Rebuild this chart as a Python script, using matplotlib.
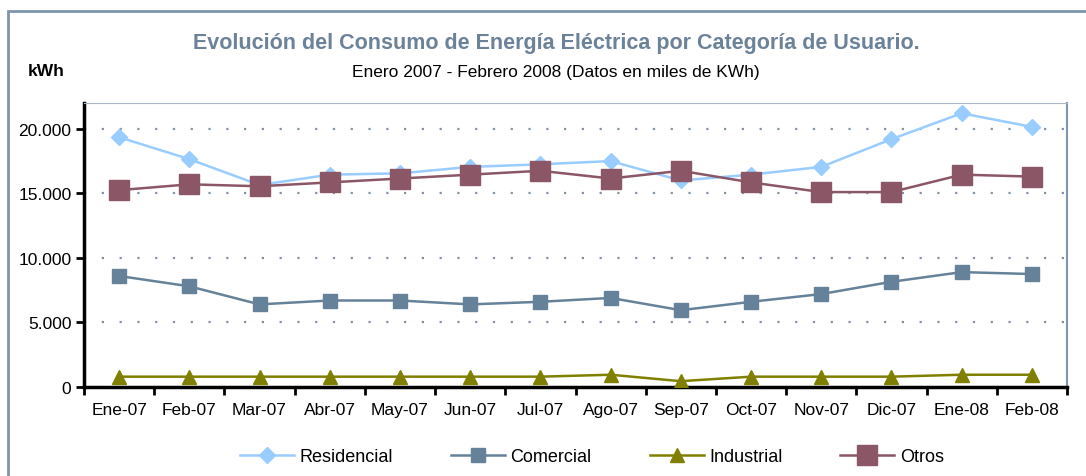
import matplotlib.pyplot as plt
from matplotlib.patches import Rectangle
from matplotlib.ticker import FuncFormatter, FixedLocator
import numpy as np

plt.rcParams['font.family'] = ['Liberation Sans', 'DejaVu Sans']

months = ['Ene-07', 'Feb-07', 'Mar-07', 'Abr-07', 'May-07', 'Jun-07', 'Jul-07',
          'Ago-07', 'Sep-07', 'Oct-07', 'Nov-07', 'Dic-07', 'Ene-08', 'Feb-08']
residencial = [19350, 17650, 15650, 16450, 16550, 17050, 17250,
               17500, 16000, 16450, 17050, 19200, 21200, 20150]
comercial = [8600, 7800, 6400, 6700, 6700, 6400, 6600,
             6900, 5950, 6600, 7200, 8150, 8900, 8750]
industrial = [800, 800, 800, 800, 800, 800, 800,
              950, 450, 800, 800, 800, 950, 950]
otros = [15250, 15700, 15550, 15850, 16150, 16450, 16750,
         16150, 16750, 15850, 15100, 15100, 16450, 16300]

fig = plt.figure(figsize=(10.86, 4.77), dpi=100)
ax = fig.add_axes([84 / 1086, 1 - 388 / 477, (1067 - 84) / 1086, (388 - 104) / 477])

# outer chart frame
fig.patches.append(Rectangle((8 / 1086, -0.1), 1.2, 1 - 12 / 477 + 0.1, transform=fig.transFigure,
                             fill=False, edgecolor='#7F95AD', linewidth=2))

x = np.arange(len(months))
ax.plot(x, residencial, color='#99CCFF', marker='D', markersize=8, linewidth=1.8,
        label='Residencial', zorder=3)
ax.plot(x, comercial, color='#66829A', marker='s', markersize=10, linewidth=1.8,
        label='Comercial', zorder=3)
ax.plot(x, industrial, color='#808000', marker='^', markersize=10, linewidth=1.8,
        label='Industrial', zorder=3)
ax.plot(x, otros, color='#8B5766', marker='s', markersize=15, linewidth=1.8,
        label='Otros', zorder=4)

ax.set_xlim(-0.5, len(months) - 0.5)
ax.set_ylim(0, 22000)
ax.set_yticks([0, 5000, 10000, 15000, 20000])
ax.yaxis.set_major_formatter(FuncFormatter(lambda v, p: f'{int(v):,}'.replace(',', '.')))
ax.set_xticks(x)
ax.set_xticklabels(months)
ax.xaxis.set_minor_locator(FixedLocator(np.arange(-0.5, len(months), 1)))
ax.tick_params(axis='x', which='major', length=0, pad=11, labelsize=12.5)
ax.tick_params(axis='x', which='minor', length=6, width=2)
ax.tick_params(axis='y', length=6, width=2, labelsize=12.5, pad=3)

for v in [5000, 10000, 15000, 20000]:
    ax.axhline(v, color='#8093A8', linestyle=(0, (1, 7)), linewidth=1.6, zorder=1)

ax.spines['left'].set_linewidth(2.5)
ax.spines['bottom'].set_linewidth(2.5)
ax.spines['top'].set_color('#A9B7C6')
ax.spines['right'].set_color('#7F95AD')
ax.spines['right'].set_linewidth(1.5)

fig.text(556 / 1086, 1 - 44 / 477, 'Evolución del Consumo de Energía Eléctrica por Categoría de Usuario.',
         ha='center', va='center', fontsize=15.5, fontweight='bold', color='#6B8299')
fig.text(556 / 1086, 1 - 72 / 477, 'Enero 2007 - Febrero 2008 (Datos en miles de KWh)',
         ha='center', va='center', fontsize=12.5)
fig.text(28 / 1086, 1 - 72 / 477, 'kWh', ha='left', va='center', fontsize=12.5, fontweight='bold')

fig.legend(loc='center', bbox_to_anchor=(592 / 1086, 1 - 458 / 477), ncol=4, frameon=False,
           fontsize=13, columnspacing=3.2, handlelength=3.0, handletextpad=0.3)

fig.savefig('out.png', dpi=100)
